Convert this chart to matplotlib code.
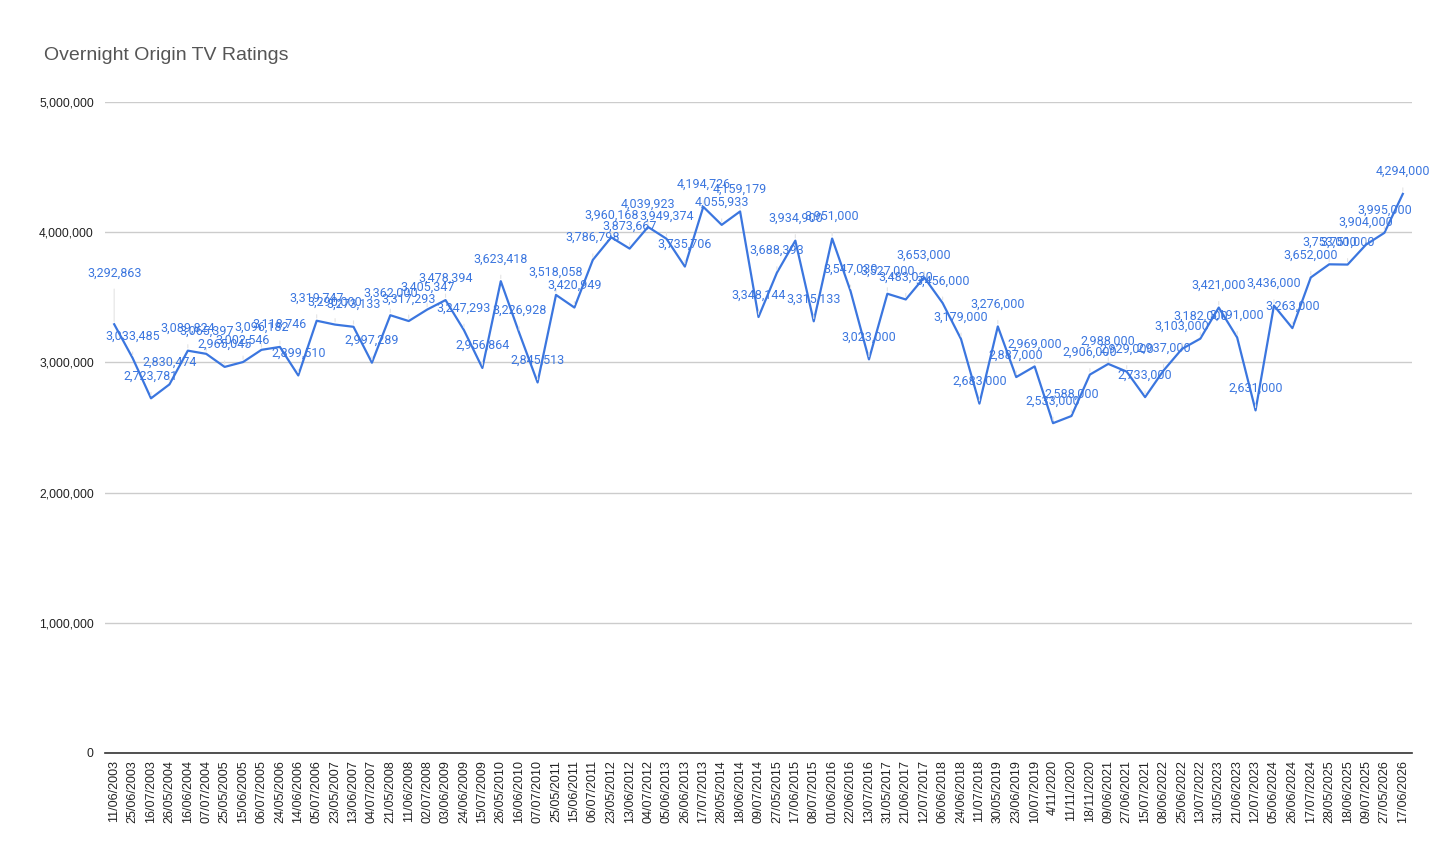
import matplotlib.pyplot as plt
from matplotlib.ticker import FuncFormatter, MultipleLocator

dates = [
    "11/06/2003", "25/06/2003", "16/07/2003", "26/05/2004", "16/06/2004", "07/07/2004",
    "25/05/2005", "15/06/2005", "06/07/2005", "24/05/2006", "14/06/2006", "05/07/2006",
    "23/05/2007", "13/06/2007", "04/07/2007", "21/05/2008", "11/06/2008", "02/07/2008",
    "03/06/2009", "24/06/2009", "15/07/2009", "26/05/2010", "16/06/2010", "07/07/2010",
    "25/05/2011", "15/06/2011", "06/07/2011", "23/05/2012", "13/06/2012", "04/07/2012",
    "05/06/2013", "26/06/2013", "17/07/2013", "28/05/2014", "18/06/2014", "09/07/2014",
    "27/05/2015", "17/06/2015", "08/07/2015", "01/06/2016", "22/06/2016", "13/07/2016",
    "31/05/2017", "21/06/2017", "12/07/2017", "06/06/2018", "24/06/2018", "11/07/2018",
    "30/05/2019", "23/06/2019", "10/07/2019", "4/11/2020", "11/11/2020", "18/11/2020",
    "09/06/2021", "27/06/2021", "15/07/2021", "08/06/2022", "25/06/2022", "13/07/2022",
    "31/05/2023", "21/06/2023", "12/07/2023", "05/06/2024", "26/06/2024", "17/07/2024",
    "28/05/2025", "18/06/2025", "09/07/2025", "27/05/2026", "17/06/2026",
]

viewers = [
    3292863, 3033485, 2723781, 2830474, 3089824, 3065397,
    2965045, 3002546, 3096182, 3118746, 2899510, 3319747,
    3290000, 3273133, 2997289, 3362000, 3317293, 3405347,
    3478394, 3247293, 2956864, 3623418, 3226928, 2845513,
    3518058, 3420949, 3786798, 3960168, 3873667, 4039923,
    3949374, 3735706, 4194726, 4055933, 4159179, 3348144,
    3688393, 3934900, 3315133, 3951000, 3547030, 3023000,
    3527000, 3483030, 3653000, 3456000, 3179000, 2683000,
    3276000, 2887000, 2969000, 2533000, 2588000, 2906000,
    2988000, 2929000, 2733000, 2937000, 3103000, 3182000,
    3421000, 3191000, 2631000, 3436000, 3263000, 3652000,
    3753000, 3751000, 3904000, 3995000, 4294000,
]

plt.rcParams['font.family'] = ['Liberation Sans', 'DejaVu Sans']

fig = plt.figure(figsize=(14.56, 8.64), dpi=100)
ax = fig.add_axes([0.0721, 0.1285, 0.8977, 0.7535])

line_color = '#3b76df'
x = list(range(len(dates)))
ax.plot(x, viewers, color=line_color, linewidth=1.6, zorder=3)

# labels sit about 22px above their point; the first one was pushed higher
lift = {0: 37}
for i, v in enumerate(viewers):
    ax.annotate(f"{v:,}", (i, v), xytext=(0, lift.get(i, 16)), textcoords='offset points',
                ha='center', va='center', fontsize=9, color=line_color,
                family=['Roboto', 'DejaVu Sans'], zorder=4,
                arrowprops=dict(arrowstyle='-', color='#e4e4e4', lw=0.8,
                                shrinkA=5, shrinkB=2))

ax.set_xlim(-0.5, len(dates) - 0.5)
ax.set_ylim(0, 5000000)
ax.yaxis.set_major_locator(MultipleLocator(1000000))
ax.yaxis.set_major_formatter(FuncFormatter(lambda val, pos: f"{int(val):,}"))
ax.grid(axis='y', color='#cccccc', linewidth=1)
ax.set_axisbelow(True)

ax.set_xticks(x)
ax.set_xticklabels(dates, rotation=90, fontsize=9, color='#222222')
ax.tick_params(axis='x', length=0, pad=5)
ax.tick_params(axis='y', length=0, pad=8, labelsize=8.7, labelcolor='#222222')

for side in ['top', 'right', 'left']:
    ax.spines[side].set_visible(False)
ax.spines['bottom'].set_color('#333333')
ax.spines['bottom'].set_linewidth(1.2)

fig.text(0.030, 0.936, "Overnight Origin TV Ratings", fontsize=14, color='#555555',
         ha='left', va='center')

fig.savefig("out.png", dpi=100)
